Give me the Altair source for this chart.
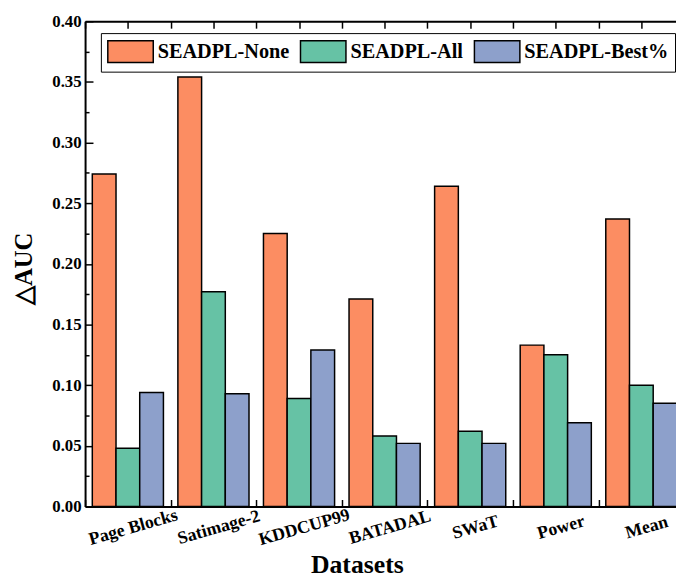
import json
import altair as alt
import pandas as pd

datasets = ["Page Blocks", "Satimage-2", "KDDCUP99", "BATADAL", "SWaT", "Power", "Mean"]
series = ["SEADPL-None", "SEADPL-All", "SEADPL-Best%"]
none_vals = [0.274, 0.354, 0.225, 0.171, 0.264, 0.133, 0.237]
all_vals = [0.048, 0.177, 0.089, 0.058, 0.062, 0.125, 0.100]
best_vals = [0.094, 0.093, 0.129, 0.052, 0.052, 0.069, 0.085]
colors = ["#FC8D62", "#66C2A5", "#8DA0CB"]
y_ticks = [0, 0.025, 0.05, 0.075, 0.1, 0.125, 0.15, 0.175, 0.2, 0.225, 0.25,
           0.275, 0.3, 0.325, 0.35, 0.375, 0.4]
x_ticks = [-0.5, 0, 0.5, 1, 1.5, 2, 2.5, 3, 3.5, 4, 4.5, 5, 5.5, 6, 6.5]

rows = []
for gi, d in enumerate(datasets):
    for si, (s, vals) in enumerate(zip(series, [none_vals, all_vals, best_vals])):
        rows.append({"dataset": d, "gi": gi, "si": si, "series": s, "value": vals[gi]})
df = pd.DataFrame(rows)

FONT = "Liberation Serif"
label_expr_x = f"datum.value % 1 === 0 ? {json.dumps(datasets)}[datum.value] : ''"
major_test = "round(datum.value * 40) % 2 === 0"

xscale = alt.Scale(domain=[-0.5, 6.405], nice=False, zero=False, padding=0)
yscale = alt.Scale(domain=[0, 0.4], nice=False, zero=True, padding=0)

yaxis = alt.Axis(values=y_ticks,
                 labelExpr=f"{major_test} ? format(datum.value, '.2f') : ''",
                 title="△AUC", titleFont=FONT, titleFontSize=25,
                 titleFontWeight="bold", titleColor="black",
                 titleAngle=270, titleX=-62, titleY=250,
                 titleAlign="center", titleBaseline="middle",
                 labelFont=FONT, labelFontSize=17, labelFontWeight="bold",
                 labelColor="black", labelPadding=12, labelOverlap=False,
                 labelFlush=False,
                 tickSize={"condition": {"test": major_test, "expr": "-8"}, "expr": "-4"},
                 tickWidth=1.5, tickColor="black",
                 domainWidth=2, domainColor="black", grid=False)

base = alt.Chart(df).transform_calculate(pos="datum.gi + (datum.si - 1) * 0.277")

bars = base.mark_bar(width=24, stroke="black", strokeWidth=1.5).encode(
    x=alt.X("pos:Q", scale=xscale,
            axis=alt.Axis(values=x_ticks, labelExpr=label_expr_x, orient="bottom",
                          title="Datasets", titleFont=FONT, titleFontSize=26,
                          titleFontWeight="bold", titleColor="black",
                          titleX=275, titleY=67, titleBaseline="alphabetic",
                          titleAlign="center",
                          labelFont=FONT, labelFontSize=18, labelFontWeight="bold",
                          labelColor="black", labelAngle=344, labelAlign="center",
                          labelBaseline="middle", labelPadding=28, labelOffset=5,
                          labelOverlap=False, labelFlush=False,
                          tickSize=alt.ExprRef("-7"), tickWidth=1.5, tickColor="black",
                          domainWidth=2, domainColor="black", grid=False)),
    y=alt.Y("value:Q", scale=yscale, axis=yaxis),
    fill=alt.Fill("series:N", scale=alt.Scale(domain=series, range=colors),
                  legend=alt.Legend(orient="none", legendX=16, legendY=12,
                                    direction="horizontal", title=None,
                                    labelFont=FONT, labelFontSize=20.5,
                                    labelFontWeight="bold", labelColor="black",
                                    symbolType="M-2,-0.956H2V0.956H-2Z",
                                    symbolSize=529, symbolOffset=11.5,
                                    symbolStrokeColor="black",
                                    symbolStrokeWidth=1.5, symbolOpacity=1,
                                    labelOffset=15, columnPadding=8, padding=6,
                                    strokeColor="black", fillColor="white",
                                    cornerRadius=0)),
)

top = base.mark_bar(width=24, opacity=0).encode(
    x=alt.X("pos:Q", scale=xscale,
            axis=alt.Axis(values=x_ticks, orient="top", labels=False, title=None,
                          tickSize=alt.ExprRef("-7"), tickWidth=1.5, tickColor="black",
                          domainWidth=2, domainColor="black", grid=False)),
    y=alt.Y("value:Q", scale=yscale, axis=yaxis),
)

chart = alt.layer(bars, top).resolve_axis(x="independent").properties(
    width=598, height=491,
    autosize=alt.AutoSizeParams(type="none"),
    padding={"left": 78, "top": 10, "right": 0, "bottom": 69},
).configure_view(stroke=None).configure(background="white")

chart.save("out.html", embed_options={"renderer": "svg", "actions": False})
